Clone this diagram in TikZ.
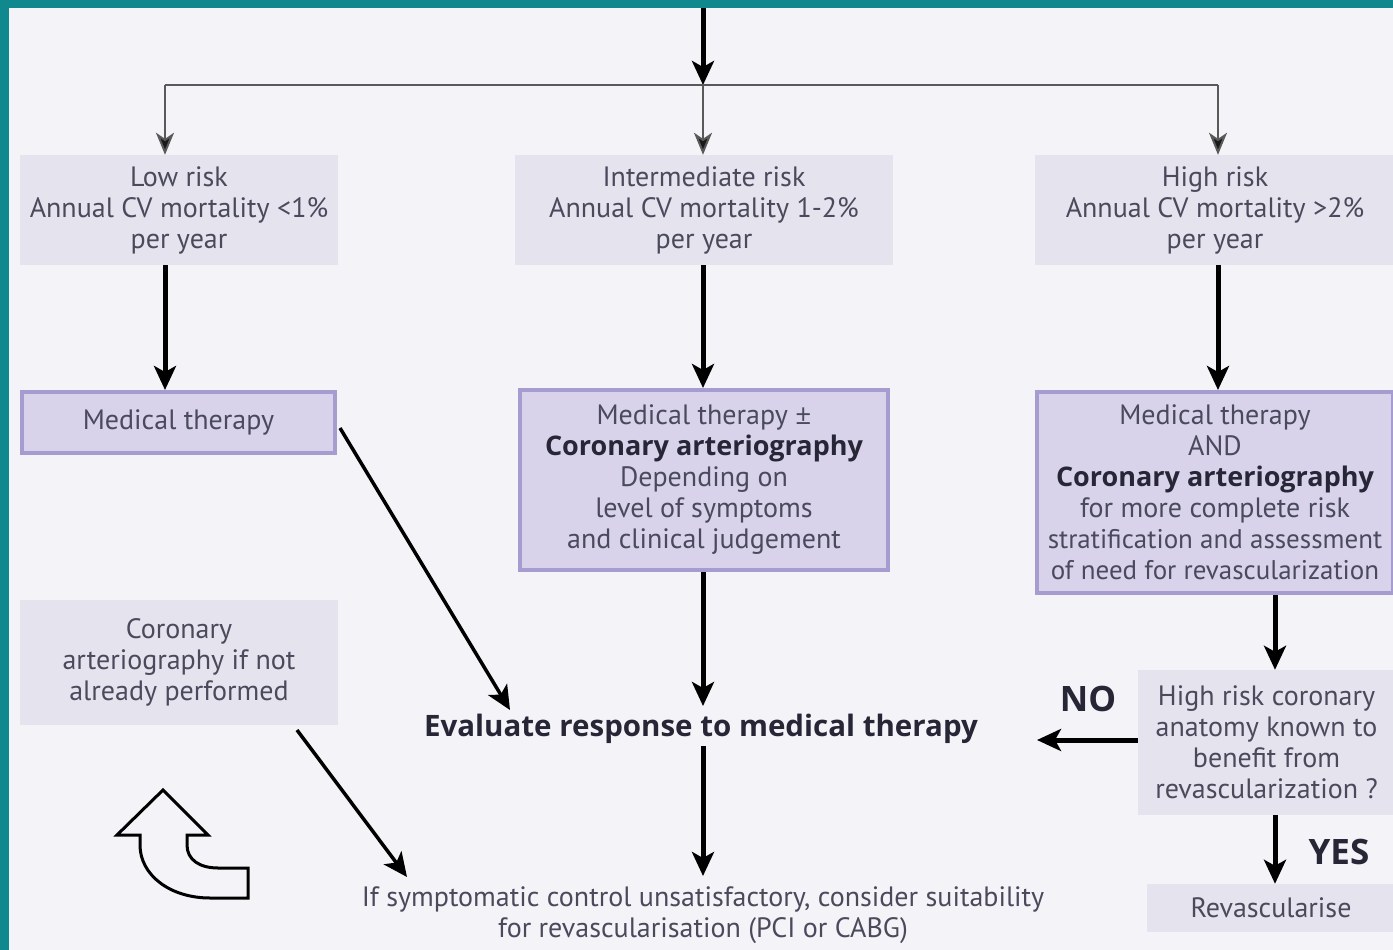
\documentclass[tikz,border=0pt]{standalone}
\usepackage{fontspec}
\setmainfont{PT Sans}
\newfontfamily\boldf{Open Sans}
\usetikzlibrary{arrows.meta}
\definecolor{bg}{HTML}{F4F4F8}
\definecolor{teal}{HTML}{0F888E}
\definecolor{lightbox}{HTML}{E5E3EE}
\definecolor{darkbox}{HTML}{D8D3EB}
\definecolor{boxline}{HTML}{A69CD0}
\definecolor{txt}{HTML}{4A4A5C}
\definecolor{btxt}{HTML}{262636}
\newcommand{\bt}[1]{{\fontsize{27}{31}\selectfont\boldf\bfseries\color{btxt}#1}}
\tikzset{
  x=1pt, y=-1pt,
  base/.style={align=center, text=txt, inner sep=0pt, font=\fontsize{28}{31}\selectfont},
  lbox/.style={base, fill=lightbox},
  dbox/.style={base, fill=darkbox, draw=boxline, line width=4pt},
  thickarrow/.style={line width=5pt, -{Stealth[length=24pt, width=22pt, inset=6pt]}},
  medarrow/.style={line width=3.5pt, -{Stealth[length=24pt, width=22pt, inset=6pt]}},
  thinarrow/.style={line width=2pt, draw=black!65, -{Stealth[length=22pt, width=18pt, inset=6pt, fill=black!90]}},
  lbl/.style={font=\fontsize{35}{35}\selectfont\boldf\bfseries, text=btxt, inner sep=0pt}
}
\begin{document}
\begin{tikzpicture}
\useasboundingbox (0,0) rectangle (1393,950);
\fill[bg] (0,0) rectangle (1393,950);
\fill[teal] (0,0) rectangle (1393,8);
\fill[teal] (0,0) rectangle (9,950);

% top row
\node[lbox, minimum width=318pt, minimum height=110pt] (low) at (179,210) {Low risk\\Annual CV mortality <1\%\\per year};
\node[lbox, minimum width=378pt, minimum height=110pt] (inter) at (704,210) {Intermediate risk\\Annual CV mortality 1-2\%\\per year};
\node[lbox, minimum width=360pt, minimum height=110pt] (high) at (1215,210) {High risk\\Annual CV mortality >2\%\\per year};

% second row
\node[dbox, minimum width=313pt, minimum height=61pt] (med1) at (178.5,422.5) {Medical therapy};
\node[dbox, minimum width=368pt, minimum height=180pt] (med2) at (704,480) {Medical therapy {\boldf ±}\\\bt{Coronary arteriography}\\Depending on\\level of symptoms\\and clinical judgement};
\node[dbox, minimum width=356pt, minimum height=201pt] (med3) at (1215,492.5) {Medical therapy\\AND\\\bt{Coronary arteriography}\\for more complete risk\\{\fontsize{27}{31}\selectfont stratification and assessment}\\{\fontsize{27}{31}\selectfont of need for revascularization}};

% left column lower
\node[lbox, minimum width=318pt, minimum height=125pt] (cor) at (179,662.5) {Coronary\\arteriography if not\\already performed};

% centre
\node[base, font=\fontsize{29.5}{31}\selectfont\boldf\bfseries, text=btxt] (eval) at (701,729) {Evaluate response to medical therapy};
\node[base] (final) at (703,915) {If symptomatic control unsatisfactory, consider suitability\\for revascularisation (PCI or CABG)};

% right lower
\node[lbox, minimum width=257pt, minimum height=145pt] (hrc) at (1266.5,742.5) {High risk coronary\\anatomy known to\\benefit from\\revascularization ?};
\node[lbox, minimum width=248pt, minimum height=48pt] (rev) at (1271,908) {Revascularise};
\node[lbl] (no) at (1088,699) {NO};
\node[lbl] (yes) at (1339,852) {YES};

% top connectors
\coordinate (top) at (703,8);
\coordinate (split) at (703,85);
\coordinate (c1) at (165,85);
\coordinate (c3) at (1218,85);
\draw[thickarrow] (top) -- (split);
\draw[line width=2pt, draw=black!65] (c1) -- (c3);
\draw[thinarrow] (c1) -- (c1 |- low.north);
\draw[thinarrow] (split) -- (split |- inter.north);
\draw[thinarrow] (c3) -- (c3 |- high.north);

% row 1 -> row 2
\draw[thickarrow] (c1 |- low.south) -- (c1 |- med1.north);
\draw[thickarrow] (split |- inter.south) -- (split |- med2.north);
\draw[thickarrow] (c3 |- high.south) -- (c3 |- med3.north);

% to evaluate
\coordinate (m1out) at (340,428);
\coordinate (evin) at (510,710);
\draw[medarrow] (m1out) -- (evin);
\draw[thickarrow] (split |- med2.south) -- (703,706);
\coordinate (c4) at (1275,595);
\draw[thickarrow] (c4 |- med3.south) -- (c4 |- hrc.north);
\coordinate (noend) at (1037,740);
\draw[thickarrow] (hrc.west |- noend) -- (noend);
\draw[thickarrow] (c4 |- hrc.south) -- (c4 |- rev.north);
\draw[thickarrow] (703,746) -- (703,876);

\coordinate (corout) at (297,730);
\coordinate (finin) at (407,877);
\draw[medarrow] (corout) -- (finin);

% curved outline arrow
\draw[line width=3pt, line join=miter, fill=bg]
  (163,790) -- (208,835) -- (187,835) -- (187,845)
  .. controls (187,860) and (200,868) .. (218,868)
  -- (248,868) -- (248,898) -- (210,898)
  .. controls (170,898) and (140,875) .. (140,845)
  -- (140,835) -- (117,835) -- cycle;
\end{tikzpicture}
\end{document}
